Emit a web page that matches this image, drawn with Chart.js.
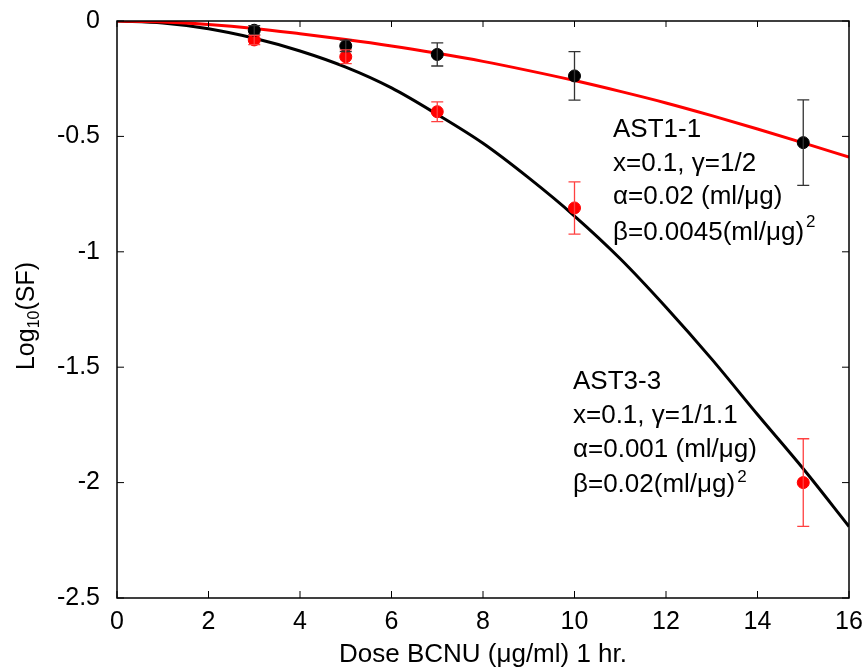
<!DOCTYPE html>
<html lang="en">
<head>
    <meta charset="UTF-8">
    <title>Log10(SF) vs Dose BCNU</title>
    <script src="https://cdn.jsdelivr.net/npm/chart.js"></script>
    <style>
        body {
            margin: 0;
            background-color: white;
        }
        .chart-container {
            width: 868px;
            height: 672px;
        }
    </style>
</head>
<body>
    <div class="chart-container">
        <canvas id="sfChart"></canvas>
    </div>

    <script>
        // measured survival points (dose in ug/ml)
        const doses = [3, 5, 7, 10, 15];
        const ast11 = [-0.04, -0.108, -0.145, -0.238, -0.527];
        const ast11Err = [0.02, 0.025, 0.05, 0.105, 0.185];
        const ast33 = [-0.082, -0.155, -0.393, -0.81, -2.0];
        const ast33Err = [0.02, 0.03, 0.043, 0.113, 0.19];

        // model curves at whole doses
        const curveDose = [0, 1, 2, 3, 4, 5, 6, 7, 8, 9, 10, 11, 12, 13, 14, 15, 16];
        const curve11 = [0, -0.004, -0.015, -0.032, -0.055, -0.08, -0.108, -0.14, -0.175, -0.215, -0.258, -0.305, -0.355, -0.41, -0.468, -0.528, -0.59];
        const curve33 = [0, -0.009, -0.034, -0.075, -0.13, -0.2, -0.29, -0.405, -0.53, -0.68, -0.845, -1.03, -1.24, -1.465, -1.705, -1.94, -2.19];

        const xTicks = [0, 2, 4, 6, 8, 10, 12, 14, 16];
        const yTicks = [0, -0.5, -1, -1.5, -2, -2.5];

        const FONT = "'Liberation Sans', Arial, sans-serif";

        const pts = (xs, ys) => xs.map((x, i) => ({ x: x, y: ys[i] }));

        // error bars, inward ticks, box, titles and notes
        const extras = {
            id: 'extras',
            afterDatasetsDraw(chart) {
                const ctx = chart.ctx;
                const xs = chart.scales.x;
                const ys = chart.scales.y;
                const area = chart.chartArea;

                function errBars(vals, errs, color) {
                    ctx.save();
                    ctx.strokeStyle = color;
                    ctx.lineWidth = 1.3;
                    doses.forEach((d, i) => {
                        const px = xs.getPixelForValue(d);
                        const top = ys.getPixelForValue(vals[i] + errs[i]);
                        const bot = ys.getPixelForValue(vals[i] - errs[i]);
                        ctx.beginPath();
                        ctx.moveTo(px, top); ctx.lineTo(px, bot);
                        ctx.moveTo(px - 6, top); ctx.lineTo(px + 6, top);
                        ctx.moveTo(px - 6, bot); ctx.lineTo(px + 6, bot);
                        ctx.stroke();
                    });
                    ctx.restore();
                }
                errBars(ast11, ast11Err, '#333333');
                errBars(ast33, ast33Err, '#ff4040');

                ctx.save();
                ctx.strokeStyle = '#000';
                ctx.lineWidth = 1.5;
                ctx.strokeRect(area.left, area.top, area.right - area.left, area.bottom - area.top);
                ctx.lineWidth = 1;
                ctx.beginPath();
                xTicks.forEach(v => {
                    const px = xs.getPixelForValue(v);
                    ctx.moveTo(px, area.bottom); ctx.lineTo(px, area.bottom - 7);
                    ctx.moveTo(px, area.top); ctx.lineTo(px, area.top + 6);
                });
                yTicks.forEach(v => {
                    const py = ys.getPixelForValue(v);
                    ctx.moveTo(area.left, py); ctx.lineTo(area.left + 7, py);
                    ctx.moveTo(area.right, py); ctx.lineTo(area.right - 7, py);
                });
                ctx.stroke();

                ctx.fillStyle = '#000';
                ctx.textBaseline = 'alphabetic';

                // x title
                ctx.font = '26px ' + FONT;
                ctx.textAlign = 'center';
                ctx.fillText('Dose BCNU (\u03bcg/ml) 1 hr.', (area.left + area.right) / 2, 662);

                // y title with subscript
                ctx.save();
                ctx.translate(34, 316);
                ctx.rotate(-Math.PI / 2);
                ctx.textAlign = 'left';
                ctx.font = '25px ' + FONT;
                const w1 = ctx.measureText('Log').width;
                ctx.font = '16px ' + FONT;
                const w2 = ctx.measureText('10').width;
                ctx.font = '25px ' + FONT;
                const w3 = ctx.measureText('(SF)').width;
                let sx = -(w1 + w2 + w3) / 2;
                ctx.fillText('Log', sx, 0);
                ctx.font = '16px ' + FONT;
                ctx.fillText('10', sx + w1, 5);
                ctx.font = '25px ' + FONT;
                ctx.fillText('(SF)', sx + w1 + w2, 0);
                ctx.restore();

                // parameter notes
                function note(x, lines, supBase) {
                    ctx.textAlign = 'left';
                    lines.forEach(l => {
                        ctx.font = '26px ' + FONT;
                        ctx.fillText(l[0], x, l[1]);
                    });
                    const last = lines[lines.length - 1];
                    ctx.font = '26px ' + FONT;
                    const w = ctx.measureText(last[0]).width;
                    ctx.font = '17px ' + FONT;
                    ctx.fillText('2', x + w + 2, supBase);
                }
                note(613, [
                    ['AST1-1', 137],
                    ['x=0.1, \u03b3=1/2', 170.5],
                    ['\u03b1=0.02 (ml/\u03bcg)', 204],
                    ['\u03b2=0.0045(ml/\u03bcg)', 240]
                ], 227);
                note(573, [
                    ['AST3-3', 389],
                    ['x=0.1, \u03b3=1/1.1', 422.5],
                    ['\u03b1=0.001 (ml/\u03bcg)', 457],
                    ['\u03b2=0.02(ml/\u03bcg)', 492]
                ], 482);
                ctx.restore();
            }
        };

        const ctx = document.getElementById('sfChart').getContext('2d');
        new Chart(ctx, {
            type: 'scatter',
            data: {
                datasets: [
                    {
                        label: 'AST1-1 data',
                        data: pts(doses, ast11),
                        backgroundColor: '#000',
                        borderColor: '#000',
                        pointRadius: 6,
                        borderWidth: 1,
                        order: 0
                    },
                    {
                        label: 'AST3-3 data',
                        data: pts(doses, ast33),
                        backgroundColor: '#ff0000',
                        borderColor: '#ff0000',
                        pointRadius: 6,
                        borderWidth: 1,
                        order: 1
                    },
                    {
                        label: 'AST1-1 fit',
                        type: 'line',
                        data: pts(curveDose, curve11),
                        borderColor: '#ff0000',
                        borderWidth: 3,
                        pointRadius: 0,
                        cubicInterpolationMode: 'monotone',
                        order: 2
                    },
                    {
                        label: 'AST3-3 fit',
                        type: 'line',
                        data: pts(curveDose, curve33),
                        borderColor: '#000',
                        borderWidth: 3,
                        pointRadius: 0,
                        cubicInterpolationMode: 'monotone',
                        order: 3
                    }
                ]
            },
            options: {
                responsive: true,
                maintainAspectRatio: false,
                animation: false,
                layout: { padding: { left: 0, top: 21, right: 19, bottom: 0 } },
                scales: {
                    x: {
                        type: 'linear',
                        min: 0,
                        max: 16,
                        afterFit: s => { s.height = 74; s.paddingLeft = 0; s.paddingRight = 0; },
                        afterBuildTicks: s => { s.ticks = xTicks.map(v => ({ value: v })); },
                        grid: { display: false },
                        border: { display: false },
                        ticks: {
                            padding: 1,
                            maxRotation: 0,
                            color: '#000',
                            font: { family: FONT, size: 25 },
                            callback: v => String(v)
                        }
                    },
                    y: {
                        type: 'linear',
                        min: -2.5,
                        max: 0,
                        afterFit: s => { s.width = 117; s.paddingTop = 0; s.paddingBottom = 0; },
                        afterBuildTicks: s => { s.ticks = yTicks.map(v => ({ value: v })); },
                        grid: { display: false },
                        border: { display: false },
                        ticks: {
                            padding: 9,
                            color: '#000',
                            font: { family: FONT, size: 25 },
                            callback: v => String(Math.round(v * 10) / 10)
                        }
                    }
                },
                plugins: {
                    legend: { display: false },
                    tooltip: { enabled: false }
                }
            },
            plugins: [extras]
        });
    </script>
</body>
</html>
